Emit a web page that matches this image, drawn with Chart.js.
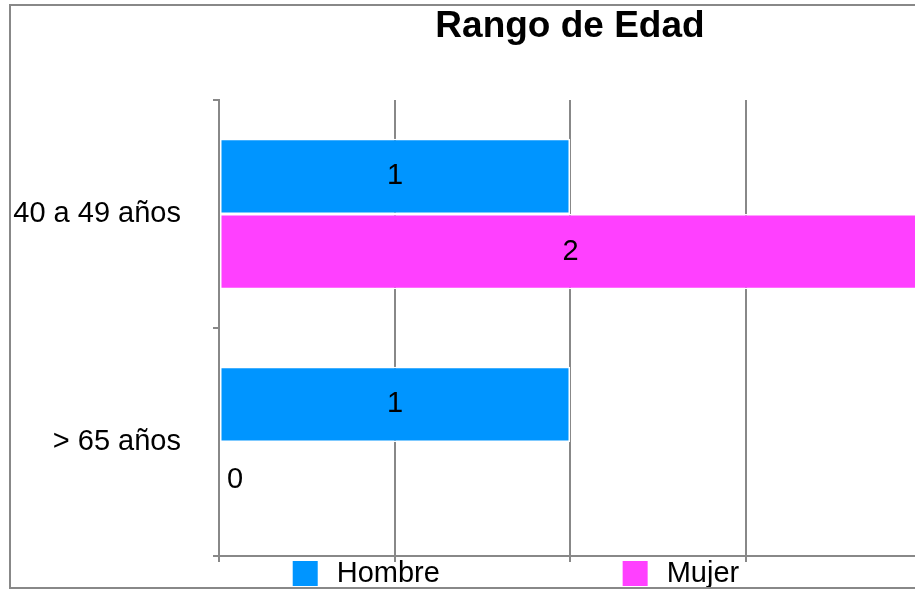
<!DOCTYPE html>
<html>
<head>
<meta charset="utf-8">
<script src="https://cdn.jsdelivr.net/npm/chart.js@4/dist/chart.umd.min.js"></script>
<style>
  html, body { margin: 0; padding: 0; overflow: hidden; background: #fff; }
  #frame {
    position: absolute; left: 9px; top: 4px;
    width: 912px; height: 581px;
    border: 2px solid #888;
  }
  #chart { display: block; }
</style>
</head>
<body>
<div id="frame"><canvas id="chart" width="912" height="581"></canvas></div>
<script>
const ageRanges = ['40 a 49 años', '> 65 años'];
const hombre = [1, 1];
const mujer = [2, 0];
const seriesNames = ['Hombre', 'Mujer'];
const seriesColors = ['#0095ff', '#ff40ff'];

const FONT = 'Arial, "Liberation Sans", sans-serif';
const GRID = '#888888';

// value written in the middle of each bar (zero bars get it just past the axis)
const barValues = {
  id: 'barValues',
  afterDatasetsDraw(chart) {
    const ctx = chart.ctx;
    ctx.save();
    ctx.font = '29px ' + FONT;
    ctx.fillStyle = '#000';
    ctx.textAlign = 'center';
    ctx.textBaseline = 'middle';
    chart.data.datasets.forEach((ds, i) => {
      chart.getDatasetMeta(i).data.forEach((bar, j) => {
        const v = ds.data[j];
        const x = v === 0 ? bar.base + 16 : (bar.x + bar.base) / 2;
        ctx.fillText(String(v), x, bar.y);
      });
    });
    ctx.restore();
  }
};

// legend row under the axis
const bottomLegend = {
  id: 'bottomLegend',
  afterDraw(chart) {
    const ctx = chart.ctx;
    const area = chart.chartArea;
    const slots = [0.105, 0.575];
    ctx.save();
    ctx.font = '29px ' + FONT;
    ctx.textBaseline = 'middle';
    ctx.textAlign = 'left';
    chart.data.datasets.forEach((ds, i) => {
      const x = area.left + area.width * slots[i];
      const y = area.bottom + 5;
      ctx.fillStyle = ds.backgroundColor;
      ctx.fillRect(x, y, 25, 25);
      ctx.fillStyle = '#000';
      ctx.fillText(ds.label, x + 44, y + 13);
    });
    ctx.restore();
  }
};

new Chart(document.getElementById('chart'), {
  type: 'bar',
  data: {
    labels: ageRanges,
    datasets: [
      { label: seriesNames[0], data: hombre, backgroundColor: seriesColors[0] },
      { label: seriesNames[1], data: mujer, backgroundColor: seriesColors[1] }
    ]
  },
  options: {
    indexAxis: 'y',
    responsive: false,
    animation: false,
    layout: { padding: { left: 0, right: 2, top: 0, bottom: 0 } },
    datasets: {
      bar: {
        categoryPercentage: 0.66,
        barPercentage: 1,
        borderColor: '#ffffff',
        borderWidth: 1.5,
        borderSkipped: false
      }
    },
    plugins: {
      legend: { display: false },
      tooltip: { enabled: false },
      title: {
        display: true,
        text: 'Rango de Edad',
        color: '#000',
        fullSize: false,
        font: { family: FONT, size: 37, weight: 'bold', lineHeight: 1 },
        padding: { top: 2, bottom: 55 }
      }
    },
    scales: {
      x: {
        min: 0,
        max: 2,
        ticks: { display: false, stepSize: 0.5 },
        grid: { color: GRID, lineWidth: 2, tickLength: 6 },
        border: { color: GRID, width: 2 },
        afterFit(scale) { scale.height = 31; }
      },
      y: {
        ticks: { color: '#000', font: { family: FONT, size: 29 }, padding: 32 },
        grid: { offset: true, drawOnChartArea: false, color: GRID, lineWidth: 2, tickLength: 6 },
        border: { color: GRID, width: 2 },
        afterFit(scale) {
          scale.width = 208;
          scale.paddingTop = 0;
          scale.paddingBottom = 0;
        }
      }
    }
  },
  plugins: [barValues, bottomLegend]
});
</script>
</body>
</html>
